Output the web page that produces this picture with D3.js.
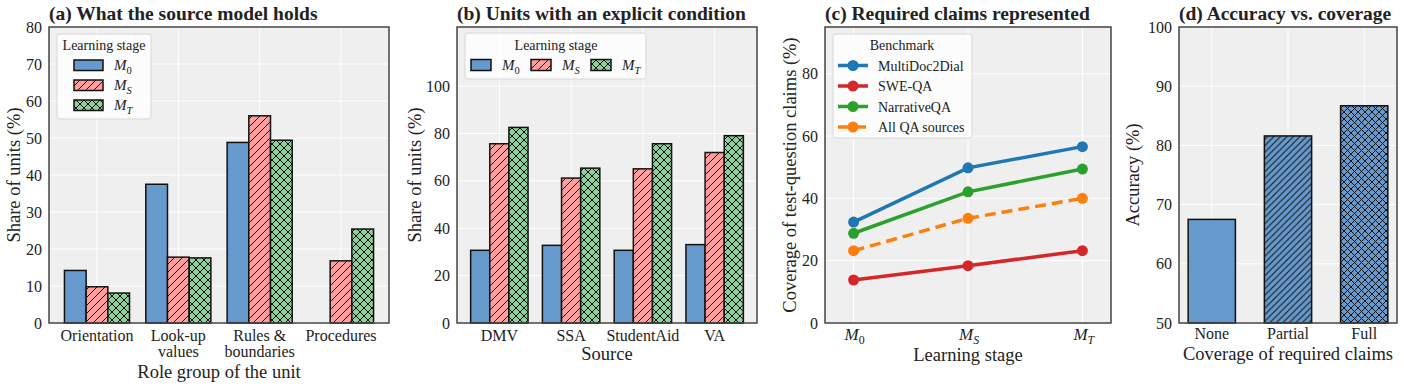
<!DOCTYPE html>
<html>
<head>
<meta charset="utf-8">
<script src="https://cdn.jsdelivr.net/npm/d3@7"></script>
<style>
  body { margin: 0; background: #fff; }
  svg text { font-family: "Liberation Serif", "DejaVu Serif", serif; fill: #222; }
</style>
</head>
<body>
<div id="chart"></div>
<script>
// Dades
const stageKeys = ["M0", "MS", "MT"];
const stageSubs = ["0", "S", "T"];

const roleGroups = [["Orientation"], ["Look-up", "values"], ["Rules &", "boundaries"], ["Procedures"]];
const holdsM0 = [14.2, 37.5, 48.8, 0];
const holdsMS = [9.8, 17.8, 56.0, 16.8];
const holdsMT = [8.1, 17.6, 49.4, 25.4];

const sources = ["DMV", "SSA", "StudentAid", "VA"];
const condM0 = [30.7, 32.8, 30.7, 33.1];
const condMS = [75.7, 61.2, 65.1, 72.0];
const condMT = [82.6, 65.4, 75.7, 79.1];

const benchmarks = ["MultiDoc2Dial", "SWE-QA", "NarrativeQA", "All QA sources"];
const claimsMultiDoc = [32.4, 49.8, 56.6];
const claimsSWE = [13.8, 18.4, 23.2];
const claimsNarrative = [28.8, 42.1, 49.4];
const claimsAll = [23.2, 33.6, 40.0];

const coverageLevels = ["None", "Partial", "Full"];
const accuracy = [67.5, 81.6, 86.7];

const W = 1404, H = 390;
const plotTop = 27, plotBottom = 323;
const stageColors = ["#6699cc", "#ff9e9e", "#8fcf9c"];
const lineColors = ["#1f77b4", "#d62728", "#2ca02c", "#ff7f0e"];
const tickSize = 16, labelSize = 18.5, titleSize = 19.5, legendSize = 14;

const svg = d3.select("#chart").append("svg")
  .attr("width", W).attr("height", H)
  .attr("viewBox", `0 0 ${W} ${H}`);

// Patrons de ratllat
const defs = svg.append("defs");
function hatch(id, color, size, cross) {
  const p = defs.append("pattern")
    .attr("id", id)
    .attr("patternUnits", "userSpaceOnUse")
    .attr("width", size).attr("height", size);
  p.append("rect").attr("width", size).attr("height", size).attr("fill", color);
  const d = `M0,${size} L${size},0 M${-size/2},${size/2} L${size/2},${-size/2} M${size/2},${size*1.5} L${size*1.5},${size/2}`;
  p.append("path").attr("d", d).attr("stroke", "#111").attr("stroke-width", 1).attr("fill", "none");
  if (cross) {
    const d2 = `M0,0 L${size},${size} M${-size/2},${size/2} L${size/2},${size*1.5} M${size/2},${-size/2} L${size*1.5},${size/2}`;
    p.append("path").attr("d", d2).attr("stroke", "#111").attr("stroke-width", 1).attr("fill", "none");
  }
}
hatch("hMS", stageColors[1], 8, false);
hatch("hMT", stageColors[2], 8, true);
hatch("hPartial", stageColors[0], 6.5, false);
hatch("hFull", stageColors[0], 7, true);
const stageFills = [stageColors[0], "url(#hMS)", "url(#hMT)"];

// Eixos i fons d'un panell
function panel(left, right, y, yTicks, title, ylabel, xlabel, xlabelY, xGrid) {
  const g = svg.append("g");
  g.append("rect")
    .attr("x", left).attr("y", plotTop)
    .attr("width", right - left).attr("height", plotBottom - plotTop)
    .attr("fill", "#efefef");
  yTicks.forEach(t => {
    g.append("line")
      .attr("x1", left).attr("x2", right)
      .attr("y1", y(t)).attr("y2", y(t))
      .attr("stroke", "#fff").attr("stroke-width", 1);
    g.append("text")
      .attr("x", left - 7).attr("y", y(t) + 5.5)
      .attr("text-anchor", "end")
      .style("font-size", tickSize + "px")
      .text(t);
  });
  xGrid.forEach(px => {
    g.append("line")
      .attr("x1", px).attr("x2", px)
      .attr("y1", plotTop).attr("y2", plotBottom)
      .attr("stroke", "#fff").attr("stroke-width", 1);
  });
  g.append("text")
    .attr("x", left).attr("y", 20)
    .style("font-size", titleSize + "px").style("font-weight", "bold")
    .text(title);
  g.append("text")
    .attr("transform", `translate(${ylabel.x},${(plotTop + plotBottom) / 2}) rotate(-90)`)
    .attr("text-anchor", "middle")
    .style("font-size", labelSize + "px")
    .text(ylabel.text);
  g.append("text")
    .attr("x", (left + right) / 2).attr("y", xlabelY)
    .attr("text-anchor", "middle")
    .style("font-size", labelSize + "px")
    .text(xlabel);
  return g;
}

function frame(left, right) {
  svg.append("rect")
    .attr("x", left).attr("y", plotTop)
    .attr("width", right - left).attr("height", plotBottom - plotTop)
    .attr("fill", "none").attr("stroke", "#444").attr("stroke-width", 1.5);
}

// M amb subíndex
function mathLabel(sel, sub, size) {
  sel.append("tspan").style("font-style", "italic").text("M");
  sel.append("tspan")
    .attr("dy", size * 0.25)
    .style("font-size", (size * 0.7) + "px")
    .style("font-style", sub === "0" ? "normal" : "italic")
    .text(sub);
}

function legendBox(x, y, w, h) {
  svg.append("rect")
    .attr("x", x).attr("y", y).attr("width", w).attr("height", h)
    .attr("rx", 3)
    .attr("fill", "rgba(255,255,255,0.8)")
    .attr("stroke", "#d8d8d8");
}

// Barres agrupades
function groupedBars(x, y, series, bw) {
  series.forEach((vals, si) => {
    svg.append("g").selectAll("rect")
      .data(vals)
      .join("rect")
      .attr("x", (d, i) => x(i + (si - 1) * bw - bw / 2))
      .attr("width", x(bw) - x(0))
      .attr("y", d => y(d))
      .attr("height", d => y(0) - y(d))
      .attr("fill", stageFills[si])
      .attr("stroke", "#111").attr("stroke-width", 1.5);
  });
}

// (a)
{
  const left = 49, right = 389;
  const x = d3.scaleLinear().domain([-0.59, 3.59]).range([left, right]);
  const y = d3.scaleLinear().domain([0, 80]).range([plotBottom, plotTop]);
  panel(left, right, y, d3.range(0, 81, 10), "(a) What the source model holds",
    { x: 20, text: "Share of units (%)" }, "Role group of the unit", 378,
    roleGroups.map((d, i) => x(i)));
  groupedBars(x, y, [holdsM0, holdsMS, holdsMT], 0.8 / 3);
  roleGroups.forEach((lines, i) => {
    const t = svg.append("text")
      .attr("x", x(i)).attr("y", 341)
      .attr("text-anchor", "middle")
      .style("font-size", tickSize + "px");
    lines.forEach((l, k) => t.append("tspan").attr("x", x(i)).attr("dy", k ? 16 : 0).text(l));
  });
  frame(left, right);
  legendBox(57, 34, 94, 85);
  svg.append("text").attr("x", 104).attr("y", 50).attr("text-anchor", "middle")
    .style("font-size", legendSize + "px").text("Learning stage");
  stageKeys.forEach((k, i) => {
    const ry = 60 + i * 20;
    svg.append("rect").attr("x", 74).attr("y", ry).attr("width", 29).attr("height", 10.5)
      .attr("fill", stageFills[i]).attr("stroke", "#111").attr("stroke-width", 1.5);
    mathLabel(svg.append("text").attr("x", 114).attr("y", ry + 10).style("font-size", "15px"), stageSubs[i], 15);
  });
}

// (b)
{
  const left = 457, right = 757;
  const x = d3.scaleLinear().domain([-0.59, 3.59]).range([left, right]);
  const y = d3.scaleLinear().domain([0, 125]).range([plotBottom, plotTop]);
  panel(left, right, y, d3.range(0, 101, 20), "(b) Units with an explicit condition",
    { x: 421, text: "Share of units (%)" }, "Source", 360,
    sources.map((d, i) => x(i)));
  groupedBars(x, y, [condM0, condMS, condMT], 0.8 / 3);
  sources.forEach((s, i) => {
    svg.append("text").attr("x", x(i)).attr("y", 341)
      .attr("text-anchor", "middle").style("font-size", tickSize + "px").text(s);
  });
  frame(left, right);
  legendBox(465, 33, 181, 46);
  svg.append("text").attr("x", 556).attr("y", 50).attr("text-anchor", "middle")
    .style("font-size", legendSize + "px").text("Learning stage");
  stageKeys.forEach((k, i) => {
    const rx = 471 + i * 60;
    svg.append("rect").attr("x", rx).attr("y", 59.5).attr("width", 20).attr("height", 11)
      .attr("fill", stageFills[i]).attr("stroke", "#111").attr("stroke-width", 1.5);
    mathLabel(svg.append("text").attr("x", rx + 31).attr("y", 70).style("font-size", "15px"), stageSubs[i], 15);
  });
}

// (c)
{
  const left = 825, right = 1111;
  const x = d3.scaleLinear().domain([-0.25, 2.25]).range([left, right]);
  const y = d3.scaleLinear().domain([0, 95]).range([plotBottom, plotTop]);
  panel(left, right, y, d3.range(0, 81, 20), "(c) Required claims represented",
    { x: 796, text: "Coverage of test-question claims (%)" }, "Learning stage", 361,
    stageKeys.map((d, i) => x(i)));
  const series = [claimsMultiDoc, claimsSWE, claimsNarrative, claimsAll];
  const line = d3.line().x((d, i) => x(i)).y(d => y(d));
  series.forEach((vals, si) => {
    const g = svg.append("g");
    g.append("path").datum(vals)
      .attr("d", line)
      .attr("fill", "none")
      .attr("stroke", lineColors[si])
      .attr("stroke-width", 3.5)
      .attr("stroke-dasharray", si === 3 ? "11,6" : null);
    g.selectAll("circle").data(vals).join("circle")
      .attr("cx", (d, i) => x(i)).attr("cy", d => y(d))
      .attr("r", 5.5).attr("fill", lineColors[si]);
  });
  stageKeys.forEach((k, i) => {
    mathLabel(svg.append("text").attr("x", x(i) - 9).attr("y", 340).style("font-size", "17px"), stageSubs[i], 17);
  });
  frame(left, right);
  legendBox(833, 34, 139, 104);
  svg.append("text").attr("x", 902).attr("y", 50).attr("text-anchor", "middle")
    .style("font-size", legendSize + "px").text("Benchmark");
  benchmarks.forEach((b, i) => {
    const ry = 65.5 + i * 20.5;
    svg.append("line").attr("x1", 838).attr("x2", 868).attr("y1", ry).attr("y2", ry)
      .attr("stroke", lineColors[i]).attr("stroke-width", 3.5)
      .attr("stroke-dasharray", i === 3 ? "11,6" : null);
    svg.append("circle").attr("cx", 853).attr("cy", ry).attr("r", 5.5).attr("fill", lineColors[i]);
    svg.append("text").attr("x", 878).attr("y", ry + 5).style("font-size", legendSize + "px").text(b);
  });
}

// (d)
{
  const left = 1179, right = 1397;
  const x = d3.scaleLinear().domain([-0.43, 2.43]).range([left, right]);
  const y = d3.scaleLinear().domain([50, 100]).range([plotBottom, plotTop]);
  panel(left, right, y, d3.range(50, 101, 10), "(d) Accuracy vs. coverage",
    { x: 1139, text: "Accuracy (%)" }, "Coverage of required claims", 359.5,
    coverageLevels.map((d, i) => x(i)));
  const fills = [stageColors[0], "url(#hPartial)", "url(#hFull)"];
  const bw = 0.62;
  svg.append("g").selectAll("rect")
    .data(accuracy)
    .join("rect")
    .attr("x", (d, i) => x(i - bw / 2))
    .attr("width", x(bw) - x(0))
    .attr("y", d => y(d))
    .attr("height", d => y(50) - y(d))
    .attr("fill", (d, i) => fills[i])
    .attr("stroke", "#111").attr("stroke-width", 1.5);
  coverageLevels.forEach((c, i) => {
    svg.append("text").attr("x", x(i)).attr("y", 339)
      .attr("text-anchor", "middle").style("font-size", tickSize + "px").text(c);
  });
  frame(left, right);
}
</script>
</body>
</html>
